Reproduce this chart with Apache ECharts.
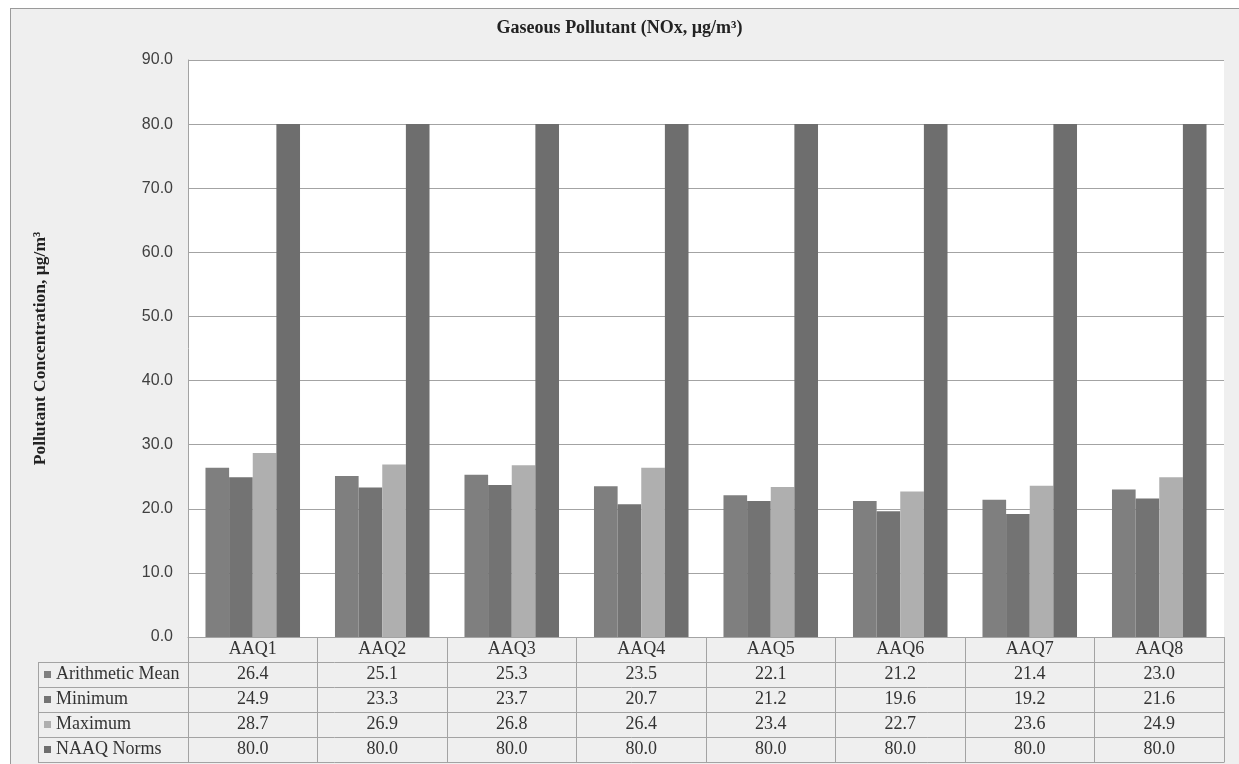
<!DOCTYPE html>
<html>
<head>
<meta charset="utf-8">
<script src="https://cdn.jsdelivr.net/npm/echarts@6/dist/echarts.min.js"></script>
<style>
  html, body { margin: 0; padding: 0; background: #ffffff; }
  #bg { position: absolute; left: 10px; top: 8px; width: 1240px; height: 770px;
        background: #efefef; border-top: 1px solid #9a9a9a; border-left: 1px solid #9a9a9a; }
  #chart { position: absolute; left: 0; top: 0; width: 1239px; height: 764px; }
</style>
</head>
<body>
<div id="bg"></div>
<div id="chart"></div>
<script>
const categories = ['AAQ1', 'AAQ2', 'AAQ3', 'AAQ4', 'AAQ5', 'AAQ6', 'AAQ7', 'AAQ8'];
const seriesNames = ['Arithmetic Mean', 'Minimum', 'Maximum', 'NAAQ Norms'];
const meanValues = [26.4, 25.1, 25.3, 23.5, 22.1, 21.2, 21.4, 23.0];
const minValues  = [24.9, 23.3, 23.7, 20.7, 21.2, 19.6, 19.2, 21.6];
const maxValues  = [28.7, 26.9, 26.8, 26.4, 23.4, 22.7, 23.6, 24.9];
const normValues = [80.0, 80.0, 80.0, 80.0, 80.0, 80.0, 80.0, 80.0];
const yMin = 0, yMax = 90, yInterval = 10;
const titleText = 'Gaseous Pollutant (NOx, µg/m³)';
const yAxisTitle = 'Pollutant Concentration, µg/m³';

const allValues = [meanValues, minValues, maxValues, normValues];
const colors = ['#7f7f7f', '#737373', '#afafaf', '#6e6e6e'];

const serif = '"Liberation Serif", "Times New Roman", serif';
const sans = '"Liberation Sans", Arial, sans-serif';
const lineColor = '#a3a3a3';

const gridLeft = 188, gridTop = 60, gridRight = 15, gridBottom = 127;
const rowH = 25;
const plotBottom = 764 - gridBottom;
const plotRight = 1239 - gridRight;
const tableLeft = 38;

const xAxes = [{
  type: 'category',
  data: categories,
  gridIndex: 0,
  position: 'bottom',
  axisLine: { show: true, lineStyle: { color: lineColor, width: 1 } },
  axisTick: { show: true, length: rowH * 5, lineStyle: { color: lineColor, width: 1 } },
  axisLabel: { interval: 0, margin: rowH / 2, verticalAlign: 'middle',
               fontFamily: serif, fontSize: 18, color: '#333' },
  splitLine: { show: false }
}];
allValues.forEach((vals, k) => {
  xAxes.push({
    type: 'category',
    data: vals.map(v => v.toFixed(1)),
    gridIndex: 0,
    position: 'bottom',
    offset: rowH * (k + 1),
    axisLine: { show: false },
    axisTick: { show: false },
    axisLabel: { interval: 0, margin: rowH / 2, verticalAlign: 'middle',
                 fontFamily: serif, fontSize: 18, color: '#333' },
    splitLine: { show: false }
  });
});

const graphicLines = [];
for (let k = 1; k <= 5; k++) {
  const y = plotBottom + rowH * k + 0.5;
  graphicLines.push({ type: 'line', z: 100, silent: true,
    shape: { x1: tableLeft, y1: y, x2: plotRight + 0.5, y2: y },
    style: { stroke: lineColor, lineWidth: 1 } });
}
graphicLines.push({ type: 'line', z: 100, silent: true,
  shape: { x1: tableLeft + 0.5, y1: plotBottom + rowH, x2: tableLeft + 0.5, y2: plotBottom + rowH * 5 + 0.5 },
  style: { stroke: lineColor, lineWidth: 1 } });

const chart = echarts.init(document.getElementById('chart'), null, { renderer: 'canvas' });
chart.setOption({
  backgroundColor: 'transparent',
  animation: false,
  color: colors,
  title: {
    text: titleText, left: 'center', top: 19, padding: 0,
    textStyle: { fontFamily: serif, fontWeight: 'bold', fontSize: 18, color: '#222' }
  },
  legend: {
    data: seriesNames, orient: 'vertical', left: 44, top: plotBottom + rowH,
    padding: 0, itemGap: 0, itemWidth: 7, itemHeight: 7, itemTextGap: 6,
    icon: 'rect', selectedMode: false,
    textStyle: { fontFamily: serif, fontSize: 18, color: '#333', lineHeight: rowH }
  },
  grid: { left: gridLeft, top: gridTop, right: gridRight, bottom: gridBottom,
          show: true, backgroundColor: '#ffffff', borderWidth: 0, containLabel: false },
  xAxis: xAxes,
  yAxis: {
    type: 'value', min: yMin, max: yMax, interval: yInterval,
    name: yAxisTitle, nameLocation: 'middle', nameRotate: 90, nameGap: 139,
    nameTextStyle: { fontFamily: serif, fontWeight: 'bold', fontSize: 17.5, color: '#222' },
    axisLine: { show: true, lineStyle: { color: lineColor, width: 1 } },
    axisTick: { show: false },
    axisLabel: { margin: 15, fontFamily: sans, fontSize: 16, color: '#404040',
                 formatter: v => v.toFixed(1) },
    splitLine: { show: true, lineStyle: { color: lineColor, width: 1 } }
  },
  series: seriesNames.map((name, i) => ({
    name: name, type: 'bar', xAxisIndex: 0, yAxisIndex: 0,
    data: allValues[i], barGap: '0%', barCategoryGap: '27%',
    itemStyle: { color: colors[i] }
  })),
  graphic: graphicLines
});
</script>
</body>
</html>
